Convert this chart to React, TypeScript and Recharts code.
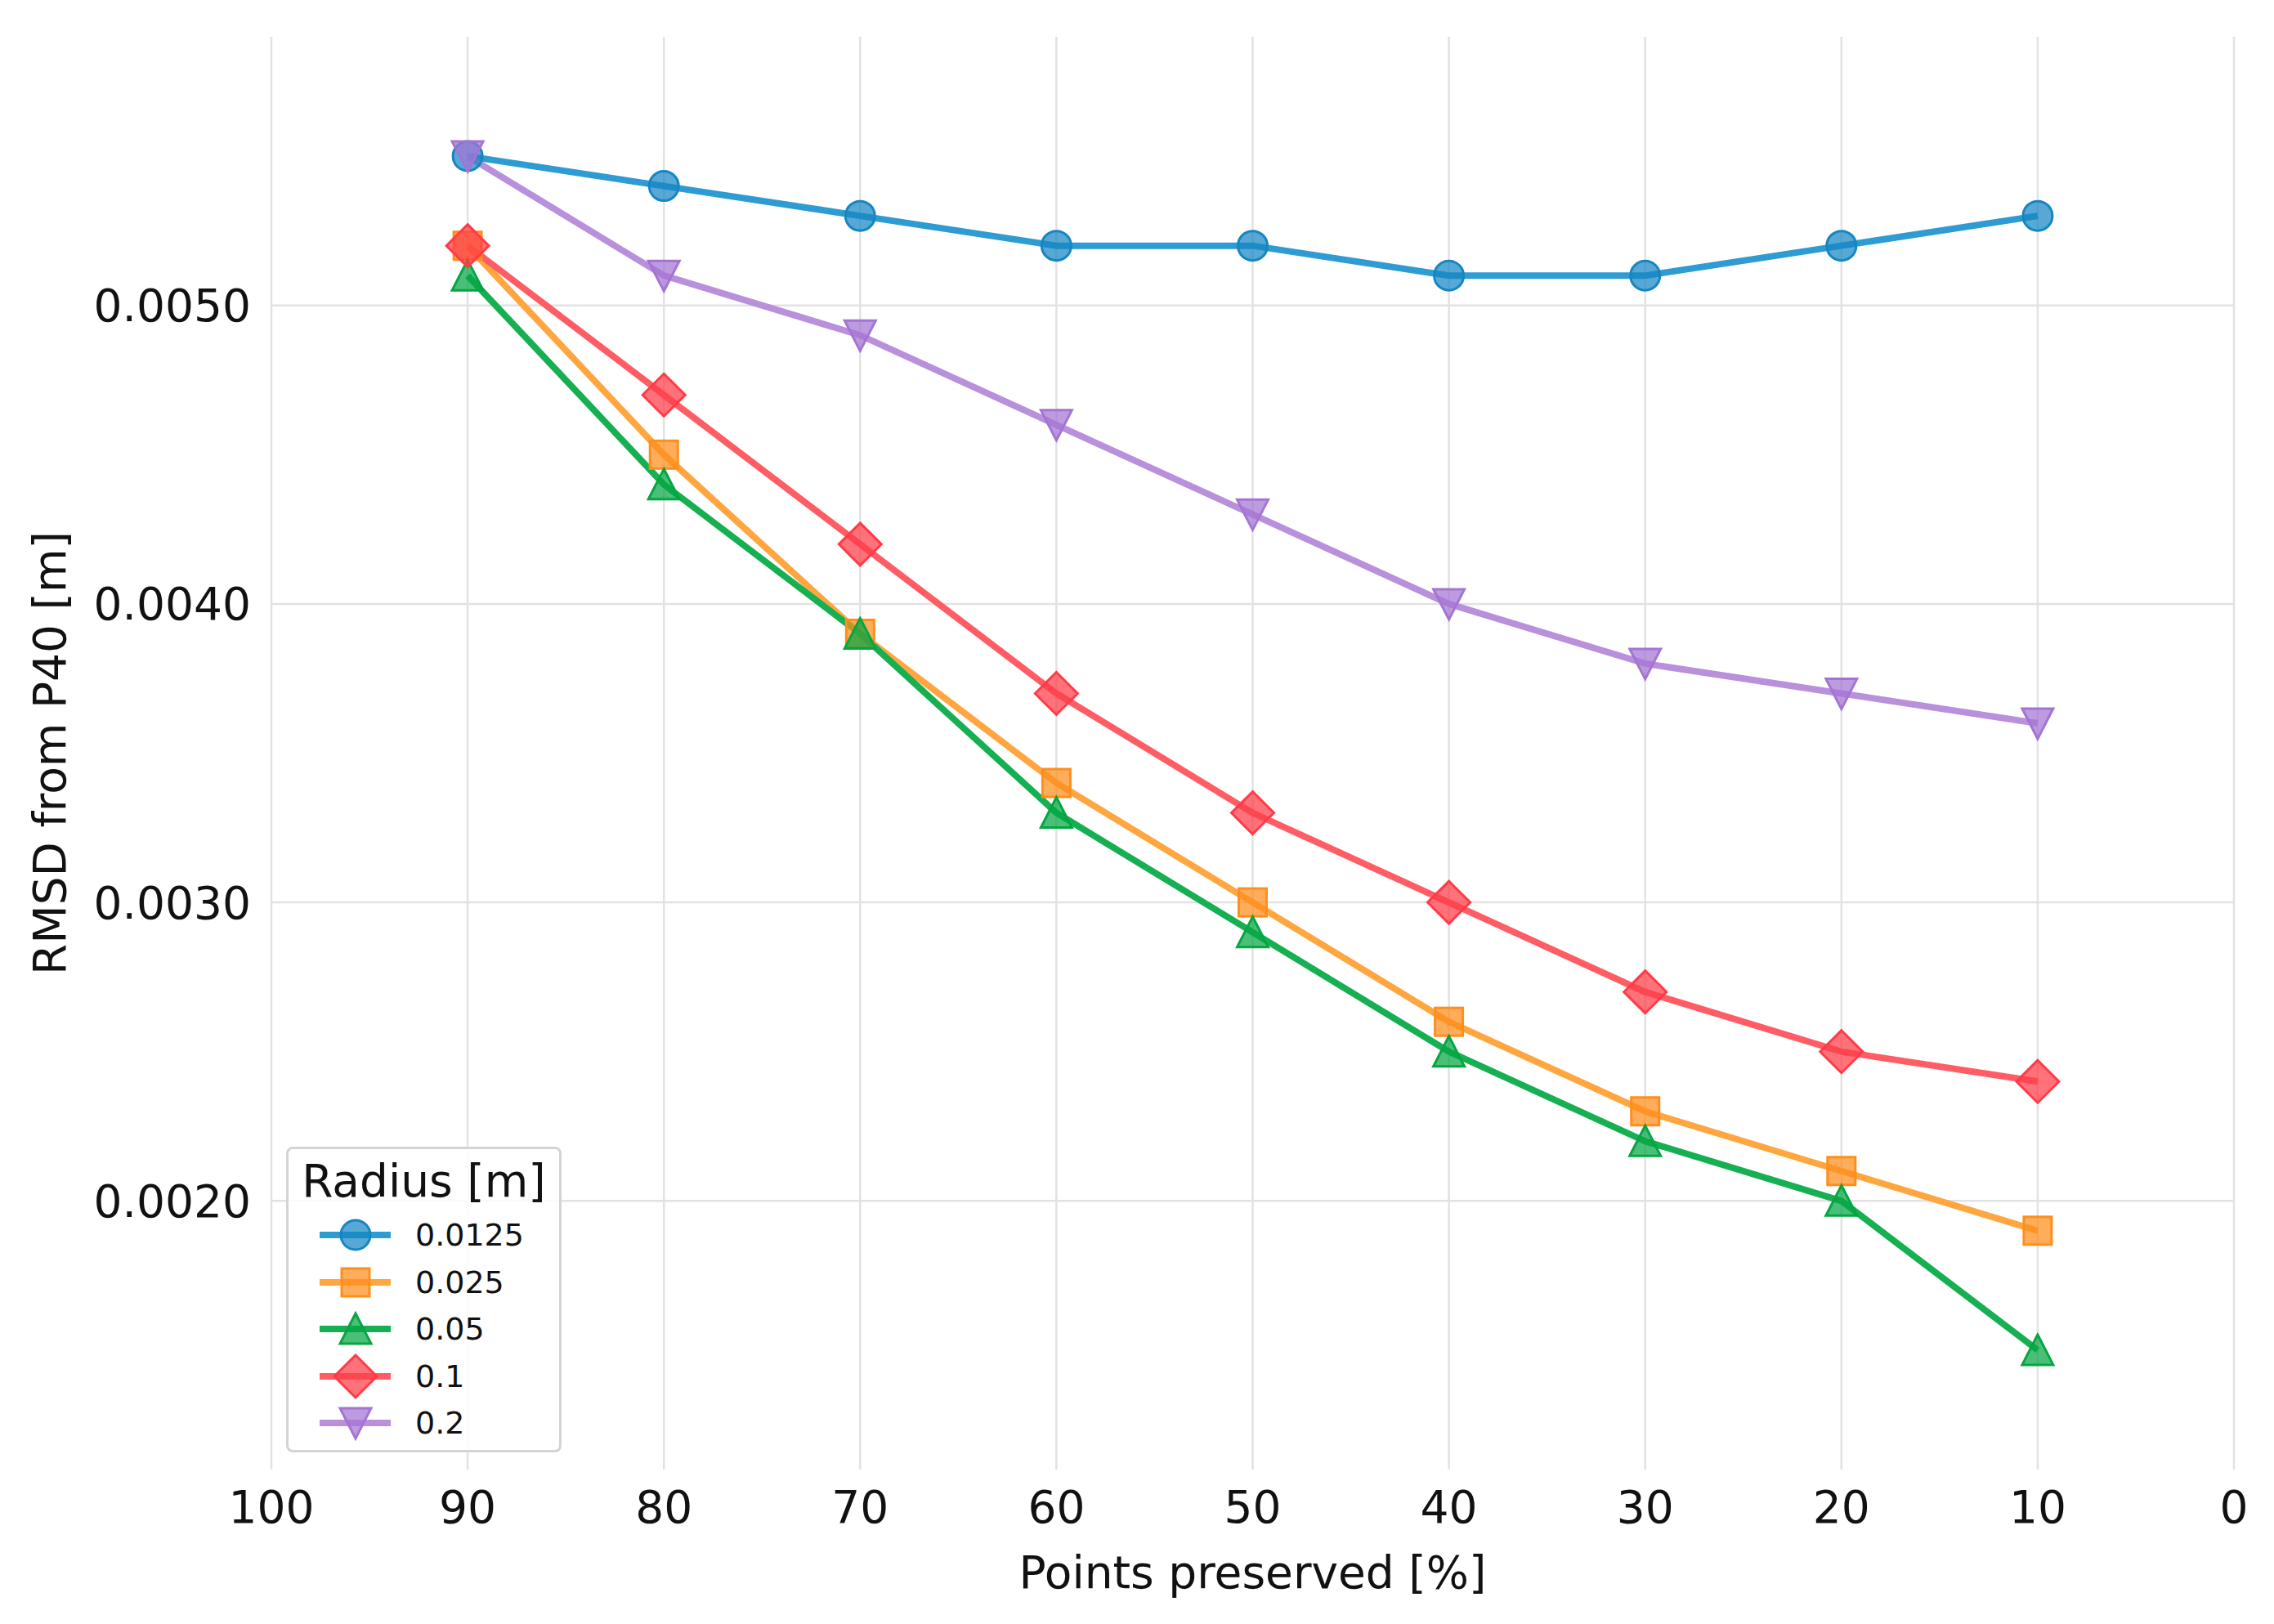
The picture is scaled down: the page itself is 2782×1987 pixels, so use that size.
import React from "react";
import { LineChart, Line, XAxis, YAxis, CartesianGrid, Legend } from "recharts";

const pointsPreserved = [90, 80, 70, 60, 50, 40, 30, 20, 10];
const radius00125 = [0.0055, 0.0054, 0.0053, 0.0052, 0.0052, 0.0051, 0.0051, 0.0052, 0.0053];
const radius0025 = [0.0052, 0.0045, 0.0039, 0.0034, 0.003, 0.0026, 0.0023, 0.0021, 0.0019];
const radius005 = [0.0051, 0.0044, 0.0039, 0.0033, 0.0029, 0.0025, 0.0022, 0.002, 0.0015];
const radius01 = [0.0052, 0.0047, 0.0042, 0.0037, 0.0033, 0.003, 0.0027, 0.0025, 0.0024];
const radius02 = [0.0055, 0.0051, 0.0049, 0.0046, 0.0043, 0.004, 0.0038, 0.0037, 0.0036];

const xTicks = [100, 90, 80, 70, 60, 50, 40, 30, 20, 10, 0];
const yTicks = [0.002, 0.003, 0.004, 0.005];

const FONT = "'DejaVu Sans', sans-serif";

type Shape = "circle" | "square" | "triangle" | "diamond" | "triangleDown";

const series: { key: string; name: string; values: number[]; line: string; marker: string; shape: Shape }[] = [
  { key: "r00125", name: "0.0125", values: radius00125, line: "#2e9bd2", marker: "#1686c3", shape: "circle" },
  { key: "r0025", name: "0.025", values: radius0025, line: "#ffa640", marker: "#ff8e1c", shape: "square" },
  { key: "r005", name: "0.05", values: radius005, line: "#16b052", marker: "#04a642", shape: "triangle" },
  { key: "r01", name: "0.1", values: radius01, line: "#ff5d65", marker: "#ff3b47", shape: "diamond" },
  { key: "r02", name: "0.2", values: radius02, line: "#b990dc", marker: "#a474d4", shape: "triangleDown" },
];

const rows = pointsPreserved.map((x, i) => {
  const row: Record<string, number> = { x };
  for (const s of series) row[s.key] = s.values[i];
  return row;
});

function Marker({ cx, cy, shape, color }: { cx?: number; cy?: number; shape: Shape; color: string }) {
  if (cx == null || cy == null) return null;
  const style = { fill: color, fillOpacity: 0.72, stroke: color, strokeWidth: 3 };
  switch (shape) {
    case "circle":
      return <circle cx={cx} cy={cy} r={18} {...style} />;
    case "square":
      return <rect x={cx - 17} y={cy - 17} width={34} height={34} {...style} />;
    case "triangle":
      return <polygon points={`${cx},${cy - 19} ${cx - 19},${cy + 18} ${cx + 19},${cy + 18}`} {...style} />;
    case "triangleDown":
      return <polygon points={`${cx},${cy + 19} ${cx - 19},${cy - 18} ${cx + 19},${cy - 18}`} {...style} />;
    case "diamond":
      return <polygon points={`${cx},${cy - 26} ${cx + 26},${cy} ${cx},${cy + 26} ${cx - 26},${cy}`} {...style} />;
  }
  return null;
}

function RadiusLegend() {
  return (
    <div
      style={{
        position: "relative",
        boxSizing: "border-box",
        width: 337,
        height: 374,
        border: "3px solid #d4d4d4",
        borderRadius: 8,
        background: "rgba(255,255,255,0.85)",
        fontFamily: FONT,
        color: "#111",
      }}
    >
      <div style={{ position: "absolute", left: 0, right: 0, top: 7, fontSize: 55, lineHeight: "64px", textAlign: "center" }}>
        Radius [m]
      </div>
      {series.map((s, i) => (
        <div key={s.key} style={{ position: "absolute", left: 0, top: 76 + i * 57.5, height: 58, width: 330 }}>
          <svg width={150} height={58} style={{ position: "absolute", left: 0, top: 0 }}>
            <line x1={38} x2={125} y1={29} y2={29} stroke={s.line} strokeWidth={8} />
            <Marker cx={82} cy={29} shape={s.shape} color={s.marker} />
          </svg>
          <span style={{ position: "absolute", left: 155, top: 0, fontSize: 38, lineHeight: "58px" }}>{s.name}</span>
        </div>
      ))}
    </div>
  );
}

export default function App() {
  return (
    <div style={{ position: "absolute", left: 0, top: 0, background: "#fff" }}>
      <LineChart width={2782} height={1987} data={rows} margin={{ top: 45, right: 49, bottom: 0, left: 0 }} style={{ fontFamily: FONT }}>
        <CartesianGrid stroke="#e2e2e2" strokeWidth={2.5} horizontalValues={yTicks} verticalValues={xTicks} />
        <XAxis
          dataKey="x"
          type="number"
          domain={[0, 100]}
          reversed
          ticks={xTicks}
          interval={0}
          axisLine={false}
          tickLine={false}
          tickSize={0}
          tickMargin={26}
          height={189}
          tick={{ fontSize: 55, fill: "#111", fontFamily: FONT }}
          label={{ value: "Points preserved [%]", position: "insideBottom", offset: 44, fontSize: 55, fill: "#111", fontFamily: FONT }}
        />
        <YAxis
          type="number"
          domain={[0.0011, 0.0059]}
          ticks={yTicks}
          interval={0}
          allowDataOverflow
          axisLine={false}
          tickLine={false}
          tickSize={0}
          tickMargin={25}
          width={332}
          tickFormatter={(v: number) => v.toFixed(4)}
          tick={{ fontSize: 55, fill: "#111", fontFamily: FONT }}
          label={{
            value: "RMSD from P40 [m]",
            angle: -90,
            position: "insideLeft",
            offset: 60,
            fontSize: 55,
            fill: "#111",
            fontFamily: FONT,
            style: { textAnchor: "middle" },
          }}
        />
        {series.map((s) => (
          <Line
            key={s.key}
            dataKey={s.key}
            name={s.name}
            type="linear"
            stroke={s.line}
            strokeWidth={8}
            isAnimationActive={false}
            activeDot={false}
            dot={(p: any) => <Marker key={`${s.key}-${p.index}`} cx={p.cx} cy={p.cy} shape={s.shape} color={s.marker} />}
          />
        ))}
        <Legend
          layout="horizontal"
          verticalAlign="middle"
          align="center"
          content={() => <RadiusLegend />}
          wrapperStyle={{ left: 350, top: 1403, width: 337, height: 374 }}
        />
      </LineChart>
    </div>
  );
}
